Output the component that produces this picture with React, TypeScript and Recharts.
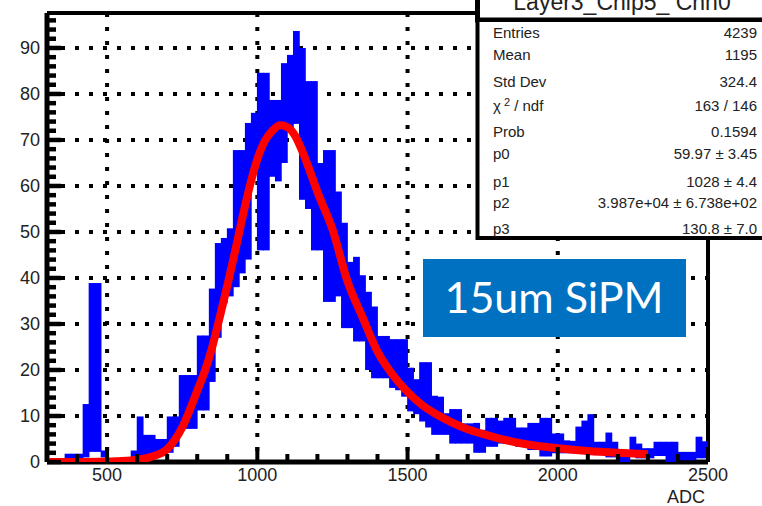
import React from "react";
import {
  ComposedChart,
  Bar,
  Line,
  XAxis,
  YAxis,
  CartesianGrid,
  ReferenceLine,
} from "recharts";

const FONT = "'Liberation Sans', Arial, Helvetica, sans-serif";
const TEXT = "#222";

// Histogram: 20 ADC wide bins starting at 300, each drawn as its error box [low, high]
const BIN_START = 300;
const BIN_WIDTH = 20;
const binLow = [
  0, 0, 0, 0.3, 0.3, 0.3, 1, 2.2, 2.2, 1,
  0, 0, 0, 0, 0, 0.4, 0.7, 0.7, 1.5, 1.5,
  2, 3.3, 7.2, 7.2, 7.2, 11.2, 11.2, 17.4, 27, 34.5,
  36, 38, 41, 44, 63, 46, 46, 62, 61, 65,
  72, 73.5, 57, 55, 46, 46, 34.8, 34.8, 36, 29.1,
  29.1, 26.2, 26.2, 20, 18.2, 18.2, 18.2, 16.1, 15.6, 14.2,
  11, 10.4, 8.8, 7.5, 5.9, 5.9, 5.9, 4, 4, 4,
  4, 2, 2, 3.3, 3.3, 4, 4, 4, 3.3, 3.3,
  2.6, 2.6, 1.2, 1.2, 1.9, 1.9, 1.9, 1.9, 1.9, 1.9,
  1.9, 1.5, 1.5, 1, 1, 0, 0, 1.9, 0.8, 0.8,
  0.8, 1.3, 1.3, 0, 0, 0.4, 0.4, 0.4, 0.8, 0.8,
];
const binHigh = [
  0, 0, 0, 1.8, 1.8, 1.8, 12.6, 38.9, 38.9, 2.5,
  0, 0, 0, 0, 2.5, 9.9, 5.9, 5.9, 5, 5,
  9.9, 9.9, 18.9, 18.9, 18.9, 27.5, 27.5, 37.7, 47.6, 48.7,
  50.8, 67.8, 67.8, 73.7, 75.9, 84.6, 84.6, 78.7, 78.7, 86.7,
  88.5, 93.7, 90, 82.8, 82.8, 65, 67.8, 67.8, 58.8, 52,
  43.5, 44.6, 40.6, 37, 33.8, 27.4, 27.4, 26.7, 26.7, 26.7,
  20.5, 18, 21.7, 21.7, 14.4, 14.2, 10.6, 11.5, 11.5, 8.4,
  8.4, 8.5, 7, 9.6, 9.6, 9, 9.6, 9.6, 7.5, 7.5,
  8.5, 8.5, 9.6, 9.6, 6.2, 6.2, 4.7, 4.6, 7.7, 9,
  10.4, 4.4, 4.4, 6.4, 4.4, 2, 2, 5.5, 4, 3,
  3, 4.4, 4.4, 4.4, 4.4, 2.2, 2.2, 2.2, 5.5, 4.5,
];

// Landau (x) Gauss fit curve
const fitAdc = [
  300, 400, 500, 550, 600, 650, 700, 725, 750, 775, 800, 825, 850, 875, 900,
  925, 950, 975, 1000, 1025, 1050, 1075, 1100, 1125, 1150, 1175, 1200, 1250,
  1300, 1350, 1400, 1450, 1500, 1550, 1600, 1650, 1700, 1750, 1800, 1900,
  2000, 2100, 2200, 2300,
];
const fitValue = [
  0, 0, 0.1, 0.2, 0.5, 1.2, 2.8, 4.8, 7.5, 11.3, 15.5, 19.7, 25, 31.5, 38.3,
  45.5, 53, 60, 65.8, 69.8, 72, 73.2, 72.8, 71, 67.5, 63.2, 58.7, 50.6,
  39.3, 31.5, 24, 19, 15.2, 12.3, 10.2, 8.5, 7.1, 6.1, 5.2, 3.8,
  3.0, 2.4, 2.0, 1.7,
];

const X_MIN = 300;
const X_MAX = 2500;
const Y_MAX = 97.6;
const xLabelTicks = [500, 1000, 1500, 2000, 2500];
const yLabelTicks = [0, 10, 20, 30, 40, 50, 60, 70, 80, 90];
const xGrid = [500, 1000, 1500, 2000];
const yGrid = [10, 20, 30, 40, 50, 60, 70, 80, 90];
const xMinorTicks = Array.from({ length: 23 }, (_, i) => X_MIN + i * 100);
const yMinorTicks = Array.from({ length: 49 }, (_, i) => i * 2);

const statNames = ["Entries", "Mean", "Std Dev", "χ2", "Prob", "p0", "p1", "p2", "p3"];
const statValues = [
  "4239",
  "1195",
  "324.4",
  "163 / 146",
  "0.1594",
  "59.97 ± 3.45",
  "1028 ± 4.4",
  "3.987e+04 ± 6.738e+02",
  "130.8 ± 7.0",
];
const statRowY = [38, 60, 87, 111, 137, 159, 187, 208, 234];

const bins = binLow.map((lo, i) => ({
  adc: BIN_START + BIN_WIDTH * (i + 0.5),
  range: [lo, binHigh[i]],
}));
const fit = fitAdc.map((adc, i) => ({ adc, fit: fitValue[i] }));

const X_TICK_MARGIN = 6;
const Y_TICK_MARGIN = 7;

const XTick = (props: any) => {
  const { x, y, payload } = props;
  const v = payload.value;
  const major = xLabelTicks.includes(v);
  const axisY = y - X_TICK_MARGIN;
  return (
    <g>
      <line x1={x} x2={x} y1={axisY} y2={axisY - (major ? 15 : 8)} stroke="#000" strokeWidth={4} />
      {major && (
        <text x={x} y={y} dy="0.71em" textAnchor="middle" fontSize={18} fontFamily={FONT} fill={TEXT}>
          {v}
        </text>
      )}
    </g>
  );
};

const YTick = (props: any) => {
  const { x, y, payload } = props;
  const v = payload.value;
  const major = yLabelTicks.includes(v);
  const axisX = x + Y_TICK_MARGIN;
  return (
    <g>
      <line x1={axisX} x2={axisX + (major ? 14 : 9)} y1={y} y2={y} stroke="#000" strokeWidth={4.5} />
      {major && (
        <text x={x} y={y} dy="0.355em" textAnchor="end" fontSize={18} fontFamily={FONT} fill={TEXT}>
          {v}
        </text>
      )}
    </g>
  );
};

// error box of one bin, widened a touch so neighbouring bins join without seams
const BinBox = (props: any) => {
  const { x, y, width, height, fill } = props;
  if (!height || height < 0.1) return <g />;
  return <rect x={x - 0.4} y={y} width={width + 0.8} height={height} fill={fill} />;
};

const StatsBox = () => (
  <svg
    width={762}
    height={506}
    style={{ position: "absolute", left: 0, top: 0, pointerEvents: "none" }}
  >
    {/* title pave */}
    <rect x={477.5} y={-40} width={330} height={60} fill="#fff" stroke="#000" strokeWidth={5} />
    <text x={622} y={10} textAnchor="middle" fontSize={23} fontFamily={FONT} fill={TEXT}>
      Layer3_Chip5_ Chn0
    </text>
    {/* statistics pave */}
    <rect x={477.5} y={20} width={330} height={218} fill="#fff" stroke="#000" strokeWidth={4} />
    {statNames.map((name, i) => (
      <g key={name} fontSize={15} fontFamily={FONT} fill={TEXT}>
        {name === "χ2" ? (
          <text x={493} y={statRowY[i]}>
            χ
            <tspan dx={3} dy={-5} fontSize={11}>
              2
            </tspan>
            <tspan dy={5}> / ndf</tspan>
          </text>
        ) : (
          <text x={493} y={statRowY[i]}>
            {name}
          </text>
        )}
        <text x={757} y={statRowY[i]} textAnchor="end">
          {statValues[i]}
        </text>
      </g>
    ))}
    {/* detector tag */}
    <rect x={423} y={259} width={263} height={78} fill="#0070c0" />
    <text x={554} y={313} textAnchor="middle" fontSize={43} fontFamily="Lato, 'Open Sans', sans-serif" fill="#fff">
      15um SiPM
    </text>
  </svg>
);

export default function App() {
  return (
    <div style={{ position: "absolute", left: 0, top: 0, width: 762, height: 506, background: "#fff" }}>
      <ComposedChart
        width={762}
        height={506}
        data={bins}
        margin={{ top: 13, right: 54, bottom: 0, left: 0 }}
      >
        <CartesianGrid
          stroke="#000"
          strokeWidth={4}
          strokeDasharray="4 10"
          horizontalValues={yGrid}
          verticalValues={xGrid}
        />
        <XAxis
          dataKey="adc"
          type="number"
          domain={[X_MIN, X_MAX]}
          ticks={xMinorTicks}
          interval={0}
          allowDataOverflow
          height={44}
          tickSize={0}
          tickMargin={X_TICK_MARGIN}
          tickLine={false}
          axisLine={{ stroke: "#000", strokeWidth: 5 }}
          tick={(p: any) => <XTick {...p} />}
          label={{
            value: "ADC",
            position: "insideBottomRight",
            offset: 3,
            fontSize: 18,
            fontFamily: FONT,
            fill: TEXT,
          }}
        />
        {/* separate hidden axis for the fit so its points don't shrink the bin band */}
        <XAxis
          xAxisId="fit"
          dataKey="adc"
          type="number"
          domain={[X_MIN, X_MAX]}
          allowDataOverflow
          hide
        />
        <YAxis
          type="number"
          domain={[0, Y_MAX]}
          ticks={yMinorTicks}
          interval={0}
          allowDataOverflow
          width={47}
          tickSize={0}
          tickMargin={Y_TICK_MARGIN}
          tickLine={false}
          axisLine={{ stroke: "#000", strokeWidth: 5 }}
          tick={(p: any) => <YTick {...p} />}
        />
        <ReferenceLine y={Y_MAX} stroke="#000" strokeWidth={4} />
        <ReferenceLine x={X_MAX} stroke="#000" strokeWidth={4} />
        <Bar
          dataKey="range"
          barSize={6}
          fill="#0000ff"
          shape={BinBox}
          isAnimationActive={false}
          zIndex={550}
        />
        <Line
          xAxisId="fit"
          data={fit}
          dataKey="fit"
          type="monotone"
          stroke="#ff0000"
          strokeWidth={8}
          dot={false}
          activeDot={false}
          isAnimationActive={false}
          zIndex={600}
        />
      </ComposedChart>
      <StatsBox />
    </div>
  );
}
